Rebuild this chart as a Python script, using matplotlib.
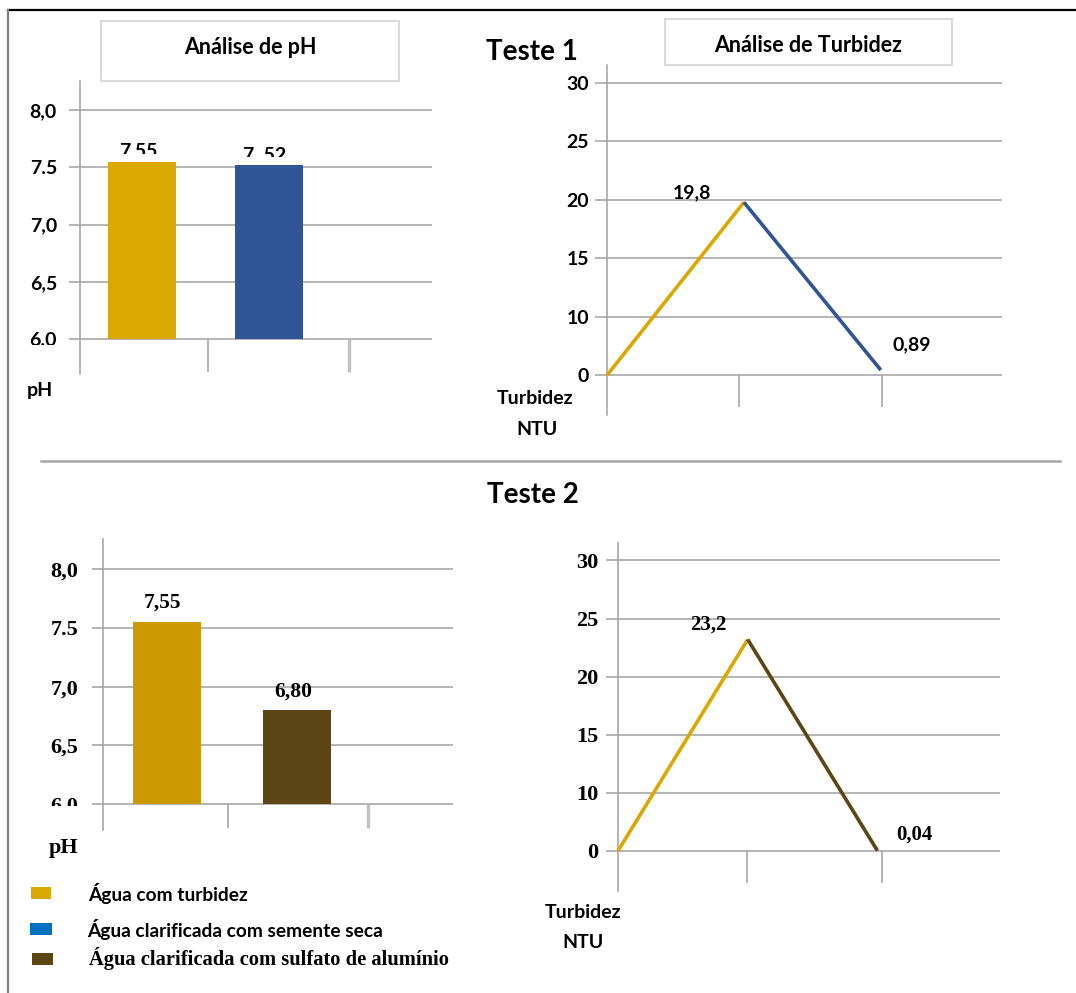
import numpy as np
import matplotlib
matplotlib.use("Agg")
import matplotlib.pyplot as plt
from matplotlib.patches import Rectangle
from matplotlib.lines import Line2D
from matplotlib.transforms import Bbox, TransformedBbox

W, H = 1076, 993
SANS = ["Lato", "DejaVu Sans"]
SERIF = ["Liberation Serif", "DejaVu Serif"]

# ---------------- data ----------------
# pH (bar charts)
ph_teste1 = [7.55, 7.52]
ph_teste1_labels = ["7,55", "7, 52"]
ph_teste2 = [7.55, 6.80]
ph_teste2_labels = ["7,55", "6,80"]

# turbidity in NTU (line charts): origin, raw water, clarified water
turb_teste1 = [0, 19.8, 0.89]
turb_teste1_labels = ["", "19,8", "0,89"]
turb_teste2 = [0, 23.2, 0.04]
turb_teste2_labels = ["", "23,2", "0,04"]

ph_ticks = [6.0, 6.5, 7.0, 7.5, 8.0]
ph_ticklabels = ["6.0", "6,5", "7,0", "7.5", "8,0"]
turb_ticks = [0, 10, 15, 20, 25, 30]
turb_ticklabels = ["0", "10", "15", "20", "25", "30"]

legend_labels = ["Água com turbidez",
                 "Água clarificada com semente seca",
                 "Água clarificada com sulfato de alumínio"]

# ---------------- colours ----------------
GOLD = "#DAA800"
GOLD_T2 = "#CC9A00"
BLUE = "#2F5597"
BROWN = "#5C4613"
LEGEND_BLUE = "#0070C0"
GRID = "#A0A0A0"
SEP_LIGHT = "#C0C0C0"

PT = 0.72  # points per pixel at 100 dpi

fig = plt.figure(figsize=(W / 100, H / 100), dpi=100)
fig.patch.set_facecolor("white")


def px_axes(x0, y0, x1, y1):
    return fig.add_axes([x0 / W, 1 - y1 / H, (x1 - x0) / W, (y1 - y0) / H])


def ftext(x, y, s, **kw):
    return fig.text(x / W, 1 - y / H, s, **kw)


def frect(x0, y0, x1, y1, **kw):
    r = Rectangle((x0 / W, 1 - y1 / H), (x1 - x0) / W, (y1 - y0) / H,
                  transform=fig.transFigure, **kw)
    fig.patches.append(r)
    return r


def fline(xs, ys, **kw):
    fig.lines.append(Line2D([x / W for x in xs], [1 - y / H for y in ys],
                            transform=fig.transFigure, **kw))


def style_axes(ax, ticks, ticklabels, family, size, tick_len_px, pad_px):
    for s in ("top", "right", "bottom"):
        ax.spines[s].set_visible(False)
    ax.spines["left"].set_color(GRID)
    ax.spines["left"].set_linewidth(1.1)
    ax.set_yticks(ticks)
    ax.set_yticklabels(ticklabels, family=family, fontweight="bold", fontsize=size)
    ax.tick_params(axis="y", length=tick_len_px * PT, width=1.1, color=GRID,
                   pad=pad_px * PT)
    ax.set_xticks([])
    ax.yaxis.grid(True, color=GRID, lw=1.1)
    ax.set_axisbelow(True)
    ax.patch.set_alpha(0)


def ph_chart(rect_px, values, labels, colors, xlim, ylim, seps, width,
             family, tsize, lsize, pad_px, gap_px, clip_px=None, base_cut_px=None):
    ax = px_axes(*rect_px)
    style_axes(ax, ph_ticks, ph_ticklabels, family, tsize, 11, pad_px)
    ax.set_xlim(*xlim)
    ax.set_ylim(*ylim)
    x = np.arange(len(values))
    base = ph_ticks[0]
    ax.bar(x, [v - base for v in values], bottom=base, width=width,
           color=colors, zorder=3)
    px_per_unit = (rect_px[3] - rect_px[1]) / (ylim[1] - ylim[0])
    for xi, v, lab in zip(x, values, labels):
        t = ax.annotate(lab, (xi, v), xytext=(-4 * PT, gap_px * PT),
                        textcoords="offset points", ha="center", va="baseline",
                        family=family, fontweight="bold", fontsize=lsize,
                        zorder=4)
        if clip_px is not None:
            # only the upper part of the value label stays visible
            lo = v + clip_px / px_per_unit
            t.set_clip_box(TransformedBbox(Bbox([[xi - 1, lo], [xi + 1, ylim[1] + 5]]),
                                           ax.transData))
            t.set_clip_on(True)
    if base_cut_px is not None:
        # lowest tick label is cut just under the base gridline
        lo = base - base_cut_px / px_per_unit
        tl = ax.yaxis.get_major_ticks()[0].label1
        tl.set_clip_box(TransformedBbox(Bbox([[-1, lo], [1, ylim[1] + 5]]),
                                        ax.get_yaxis_transform()))
        tl.set_clip_on(True)
    ax.vlines(seps[0], ylim[0] + 0.02, base, colors=GRID, lw=1.1, clip_on=False)
    ax.vlines(seps[1], ylim[0] + 0.02, base, colors=SEP_LIGHT, lw=2.4, clip_on=False)
    return ax


def fwd(y):
    y = np.asarray(y, dtype=float)
    return np.where(y < 10, y / 2.0, y - 5.0)


def inv(u):
    u = np.asarray(u, dtype=float)
    return np.where(u < 5, u * 2.0, u + 5.0)


def turb_chart(rect_px, values, labels, colors, xlim, ylim, seps, sep_bottom,
               family, tsize, lsize, pad_px, offsets_px):
    ax = px_axes(*rect_px)
    ax.set_yscale("function", functions=(fwd, inv))
    style_axes(ax, turb_ticks, turb_ticklabels, family, tsize, 12, pad_px)
    ax.yaxis.set_minor_locator(matplotlib.ticker.NullLocator())
    ax.set_xlim(*xlim)
    ax.set_ylim(*ylim)
    x = np.arange(len(values))
    for i in range(len(values) - 1):
        ax.plot(x[i:i + 2], values[i:i + 2], color=colors[i], lw=2.6,
                solid_capstyle="butt", zorder=3, clip_on=False)
    for xi, v, lab, (dx, dy) in zip(x, values, labels, offsets_px):
        if lab:
            ax.annotate(lab, (xi, v), xytext=(dx * PT, dy * PT),
                        textcoords="offset points", ha="center", va="baseline",
                        family=family, fontweight="bold", fontsize=lsize)
    for s in seps:
        ax.vlines(s, sep_bottom, 0, colors=GRID, lw=1.1, clip_on=False)
    return ax


# ---------------- frame ----------------
fline([8, 1076], [10, 10], color="black", lw=1.6)
fline([8, 8], [10, 993], color="#808080", lw=1.6)
fline([41, 1060], [461, 461], color="#A6A6A6", lw=1.8)

# ---------------- Teste 1 ----------------
frect(101, 21, 399, 81, facecolor="white", edgecolor="#D9D9D9", lw=1.5)
ftext(250, 48, "Análise de pH", family=SANS, fontweight="bold", fontsize=15.5,
      ha="center", va="center")
frect(665, 19, 952, 65, facecolor="white", edgecolor="#D9D9D9", lw=1.5)
ftext(808, 46, "Análise de Turbidez", family=SANS, fontweight="bold", fontsize=15.5,
      ha="center", va="center")
ftext(532, 52, "Teste 1", family=SANS, fontweight="bold", fontsize=20,
      ha="center", va="center")

ph_chart((80, 81, 432, 374), ph_teste1, ph_teste1_labels, [GOLD, BLUE],
         (-0.488, 2.283), (5.699, 8.253), (0.52, 1.63), 0.54,
         SANS, 14, 14, 12, 5, clip_px=8, base_cut_px=6)
ftext(40, 390, "pH", family=SANS, fontweight="bold", fontsize=14,
      ha="center", va="center")

turb_chart((607, 65, 1002, 415), turb_teste1, turb_teste1_labels, [GOLD, BLUE],
           (0, 2.885), (-6.79, 31.54), (0.961, 2.005), -5.4,
           SANS, 14, 14, 6, [(0, 0), (-52, 4), (31, 20)])
ftext(535, 399, "Turbidez", family=SANS, fontweight="bold", fontsize=14,
      ha="center", va="center")
ftext(537, 429, "NTU", family=SANS, fontweight="bold", fontsize=14,
      ha="center", va="center")

# ---------------- Teste 2 ----------------
ftext(533, 495, "Teste 2", family=SANS, fontweight="bold", fontsize=20,
      ha="center", va="center")

ph_chart((103, 539, 453, 830), ph_teste2, ph_teste2_labels, [GOLD_T2, BROWN],
         (-0.489, 2.193), (5.781, 8.255), (0.471, 1.544), 0.52,
         SERIF, 16, 15.5, 14, 14, base_cut_px=2)
ftext(64, 848, "pH", family=SERIF, fontweight="bold", fontsize=16,
      ha="center", va="center")

turb_chart((618, 543, 1000, 891), turb_teste2, turb_teste2_labels, [GOLD, BROWN],
           (0, 2.945), (-6.9, 31.5), (0.991, 2.039), -5.6,
           SERIF, 16, 15, 8, [(0, 0), (-39, 10), (37, 11)])
ftext(583, 912, "Turbidez", family=SANS, fontweight="bold", fontsize=14,
      ha="center", va="center")
ftext(583, 942, "NTU", family=SANS, fontweight="bold", fontsize=14,
      ha="center", va="center")

# ---------------- legend ----------------
legend_colors = [GOLD, LEGEND_BLUE, BROWN]
legend_boxes = [(31, 887, 51, 899), (30, 923, 52, 935), (32, 953, 53, 965)]
legend_text_pos = [(88, 893), (87, 929), (89, 959)]
legend_fonts = [(SANS, 13.8), (SANS, 13.8), (SERIF, 14.8)]
for c, box, pos, lab, (fam, fs) in zip(legend_colors, legend_boxes,
                                       legend_text_pos, legend_labels, legend_fonts):
    frect(*box, facecolor=c, edgecolor="none")
    ftext(pos[0], pos[1], lab, family=fam, fontweight="bold", fontsize=fs,
          ha="left", va="center")

fig.savefig("out.png", dpi=100)
